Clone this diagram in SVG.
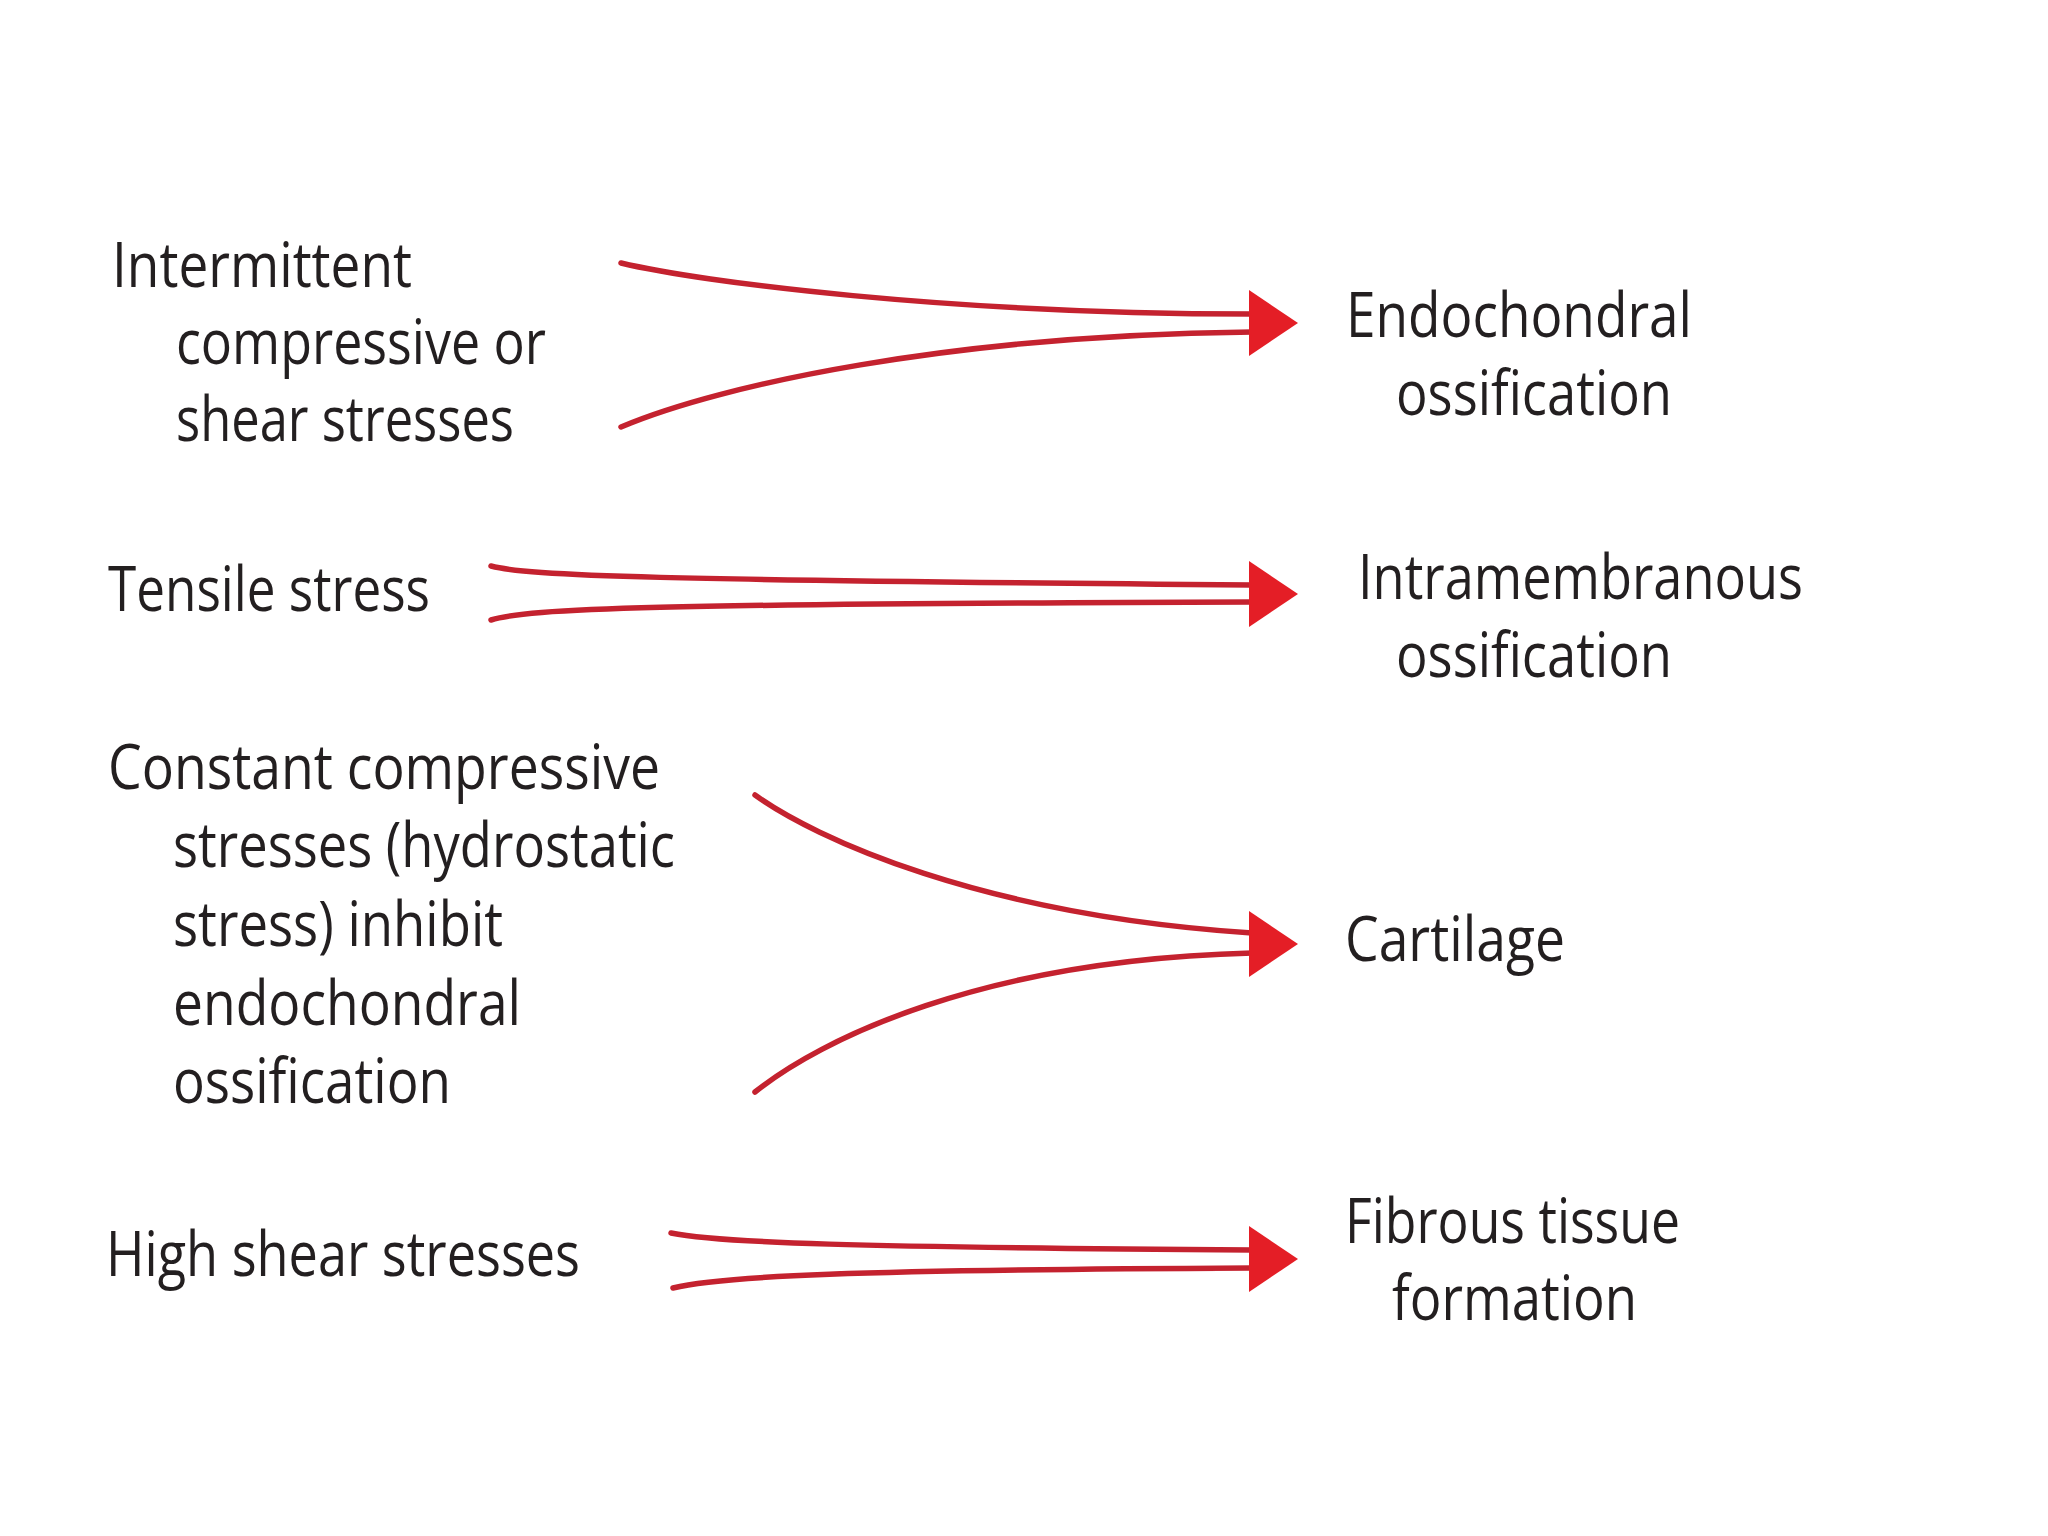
<svg xmlns="http://www.w3.org/2000/svg" xmlns:xlink="http://www.w3.org/1999/xlink" width="2048" height="1536" viewBox="0 0 2048 1536">
<style>
.t{font-family:"Open Sans","Noto Sans","Liberation Sans",sans-serif;font-size:62px;fill:#231f20}
.ln{fill:none;stroke:#c4222f;stroke-width:5.5;stroke-linecap:round}
.hd{fill:#e41e26}
</style>
<defs>
<polygon id="head" class="hd" points="0,-33 49,0 0,33"/>
</defs>
<rect width="2048" height="1536" fill="#ffffff"/>
<g id="connectors">
<path class="ln" d="M621,263 C700,282 950,314 1252,314"/>
<path class="ln" d="M621,427 C720,385 950,335 1252,332"/>
<use xlink:href="#head" x="1249" y="323"/>
<path class="ln" d="M491,566 C530,576 650,580 1252,585"/>
<path class="ln" d="M491,620 C530,608 650,604 1252,602"/>
<use xlink:href="#head" x="1249" y="594"/>
<path class="ln" d="M755,795 C815,838 980,915 1252,933"/>
<path class="ln" d="M755,1092 C820,1040 980,960 1252,953"/>
<use xlink:href="#head" x="1249" y="944"/>
<path class="ln" d="M671,1233 C720,1243 850,1247 1252,1250"/>
<path class="ln" d="M673,1288 C720,1276 850,1270 1252,1268"/>
<use xlink:href="#head" x="1249" y="1259"/>
</g>
<g id="n-intermittent">
<text class="t" x="112" y="287" textLength="300" lengthAdjust="spacingAndGlyphs">Intermittent</text>
<text class="t" x="176" y="364" textLength="370" lengthAdjust="spacingAndGlyphs">compressive or</text>
<text class="t" x="176" y="441" textLength="338" lengthAdjust="spacingAndGlyphs">shear stresses</text>
</g>
<g id="n-tensile">
<text class="t" x="108" y="611" textLength="322" lengthAdjust="spacingAndGlyphs">Tensile stress</text>
</g>
<g id="n-constant">
<text class="t" x="108" y="789" textLength="552" lengthAdjust="spacingAndGlyphs">Constant compressive</text>
<text class="t" x="173" y="867" textLength="502" lengthAdjust="spacingAndGlyphs">stresses (hydrostatic</text>
<text class="t" x="173" y="946" textLength="330" lengthAdjust="spacingAndGlyphs">stress) inhibit</text>
<text class="t" x="173" y="1025" textLength="348" lengthAdjust="spacingAndGlyphs">endochondral</text>
<text class="t" x="173" y="1103" textLength="278" lengthAdjust="spacingAndGlyphs">ossification</text>
</g>
<g id="n-highshear">
<text class="t" x="106" y="1276" textLength="474" lengthAdjust="spacingAndGlyphs">High shear stresses</text>
</g>
<g id="n-endochondral">
<text class="t" x="1346" y="337" textLength="346" lengthAdjust="spacingAndGlyphs">Endochondral</text>
<text class="t" x="1396" y="415" textLength="276" lengthAdjust="spacingAndGlyphs">ossification</text>
</g>
<g id="n-intramembranous">
<text class="t" x="1358" y="599" textLength="445" lengthAdjust="spacingAndGlyphs">Intramembranous</text>
<text class="t" x="1396" y="677" textLength="276" lengthAdjust="spacingAndGlyphs">ossification</text>
</g>
<g id="n-cartilage">
<text class="t" x="1345" y="961" textLength="220" lengthAdjust="spacingAndGlyphs">Cartilage</text>
</g>
<g id="n-fibrous">
<text class="t" x="1345" y="1243" textLength="335" lengthAdjust="spacingAndGlyphs">Fibrous tissue</text>
<text class="t" x="1392" y="1320" textLength="245" lengthAdjust="spacingAndGlyphs">formation</text>
</g>
</svg>
